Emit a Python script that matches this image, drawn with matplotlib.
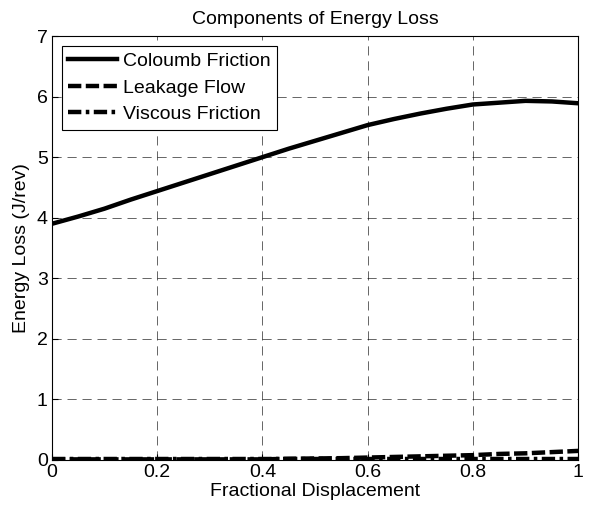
import matplotlib
matplotlib.use("Agg")
import matplotlib.pyplot as plt

x = [0.00, 0.05, 0.10, 0.15, 0.20, 0.25, 0.30, 0.35, 0.40, 0.45, 0.50,
     0.55, 0.60, 0.65, 0.70, 0.75, 0.80, 0.85, 0.90, 0.95, 1.00]
coulomb = [3.90, 4.02, 4.15, 4.30, 4.44, 4.58, 4.72, 4.86, 5.00, 5.14, 5.27,
           5.40, 5.53, 5.63, 5.72, 5.80, 5.87, 5.90, 5.93, 5.92, 5.89]
leakage = [0.01, 0.01, 0.01, 0.01, 0.01, 0.01, 0.01, 0.01, 0.01, 0.02, 0.025,
           0.03, 0.04, 0.05, 0.06, 0.07, 0.08, 0.10, 0.11, 0.13, 0.15]
viscous = [0.01] * 21

xticks = [0, 0.2, 0.4, 0.6, 0.8, 1]
xticklabels = ["0", "0.2", "0.4", "0.6", "0.8", "1"]
yticks = [0, 1, 2, 3, 4, 5, 6, 7]

plt.rcParams['font.family'] = ['Liberation Sans', 'DejaVu Sans']
fig = plt.figure(figsize=(5.9, 5.12), dpi=100)
ax = fig.add_axes([0.088, 0.1016, 0.892, 0.828])

ax.plot(x, coulomb, color='black', lw=3.2, ls='-', label='Coloumb Friction')
ax.plot(x, leakage, color='black', lw=3.2, ls=(0, (3, 1.0)), label='Leakage Flow')
ax.plot(x, viscous, color='black', lw=3.2, ls=(0, (3, 1, 0.8, 1)), label='Viscous Friction')

ax.set_xlim(0, 1)
ax.set_ylim(0, 7)
ax.set_xticks(xticks)
ax.set_xticklabels(xticklabels)
ax.set_yticks(yticks)
ax.tick_params(direction='in', labelsize=14, length=4, pad=3)
ax.grid(True, color='black', ls=(0, (11, 7)), lw=0.6, alpha=0.7)
for s in ax.spines.values():
    s.set_linewidth(0.8)

ax.set_title('Components of Energy Loss', fontsize=14, pad=9)
ax.set_xlabel('Fractional Displacement', fontsize=14, labelpad=1)
ax.set_ylabel('Energy Loss (J/rev)', fontsize=14, labelpad=5)

leg = ax.legend(loc='upper left', fontsize=14, fancybox=False, edgecolor='black',
                framealpha=1, handlelength=2.5, handletextpad=0.3,
                borderaxespad=0.5, labelspacing=0.45, borderpad=0.35)
leg.get_frame().set_linewidth(0.8)

fig.savefig('out.png', dpi=100)
